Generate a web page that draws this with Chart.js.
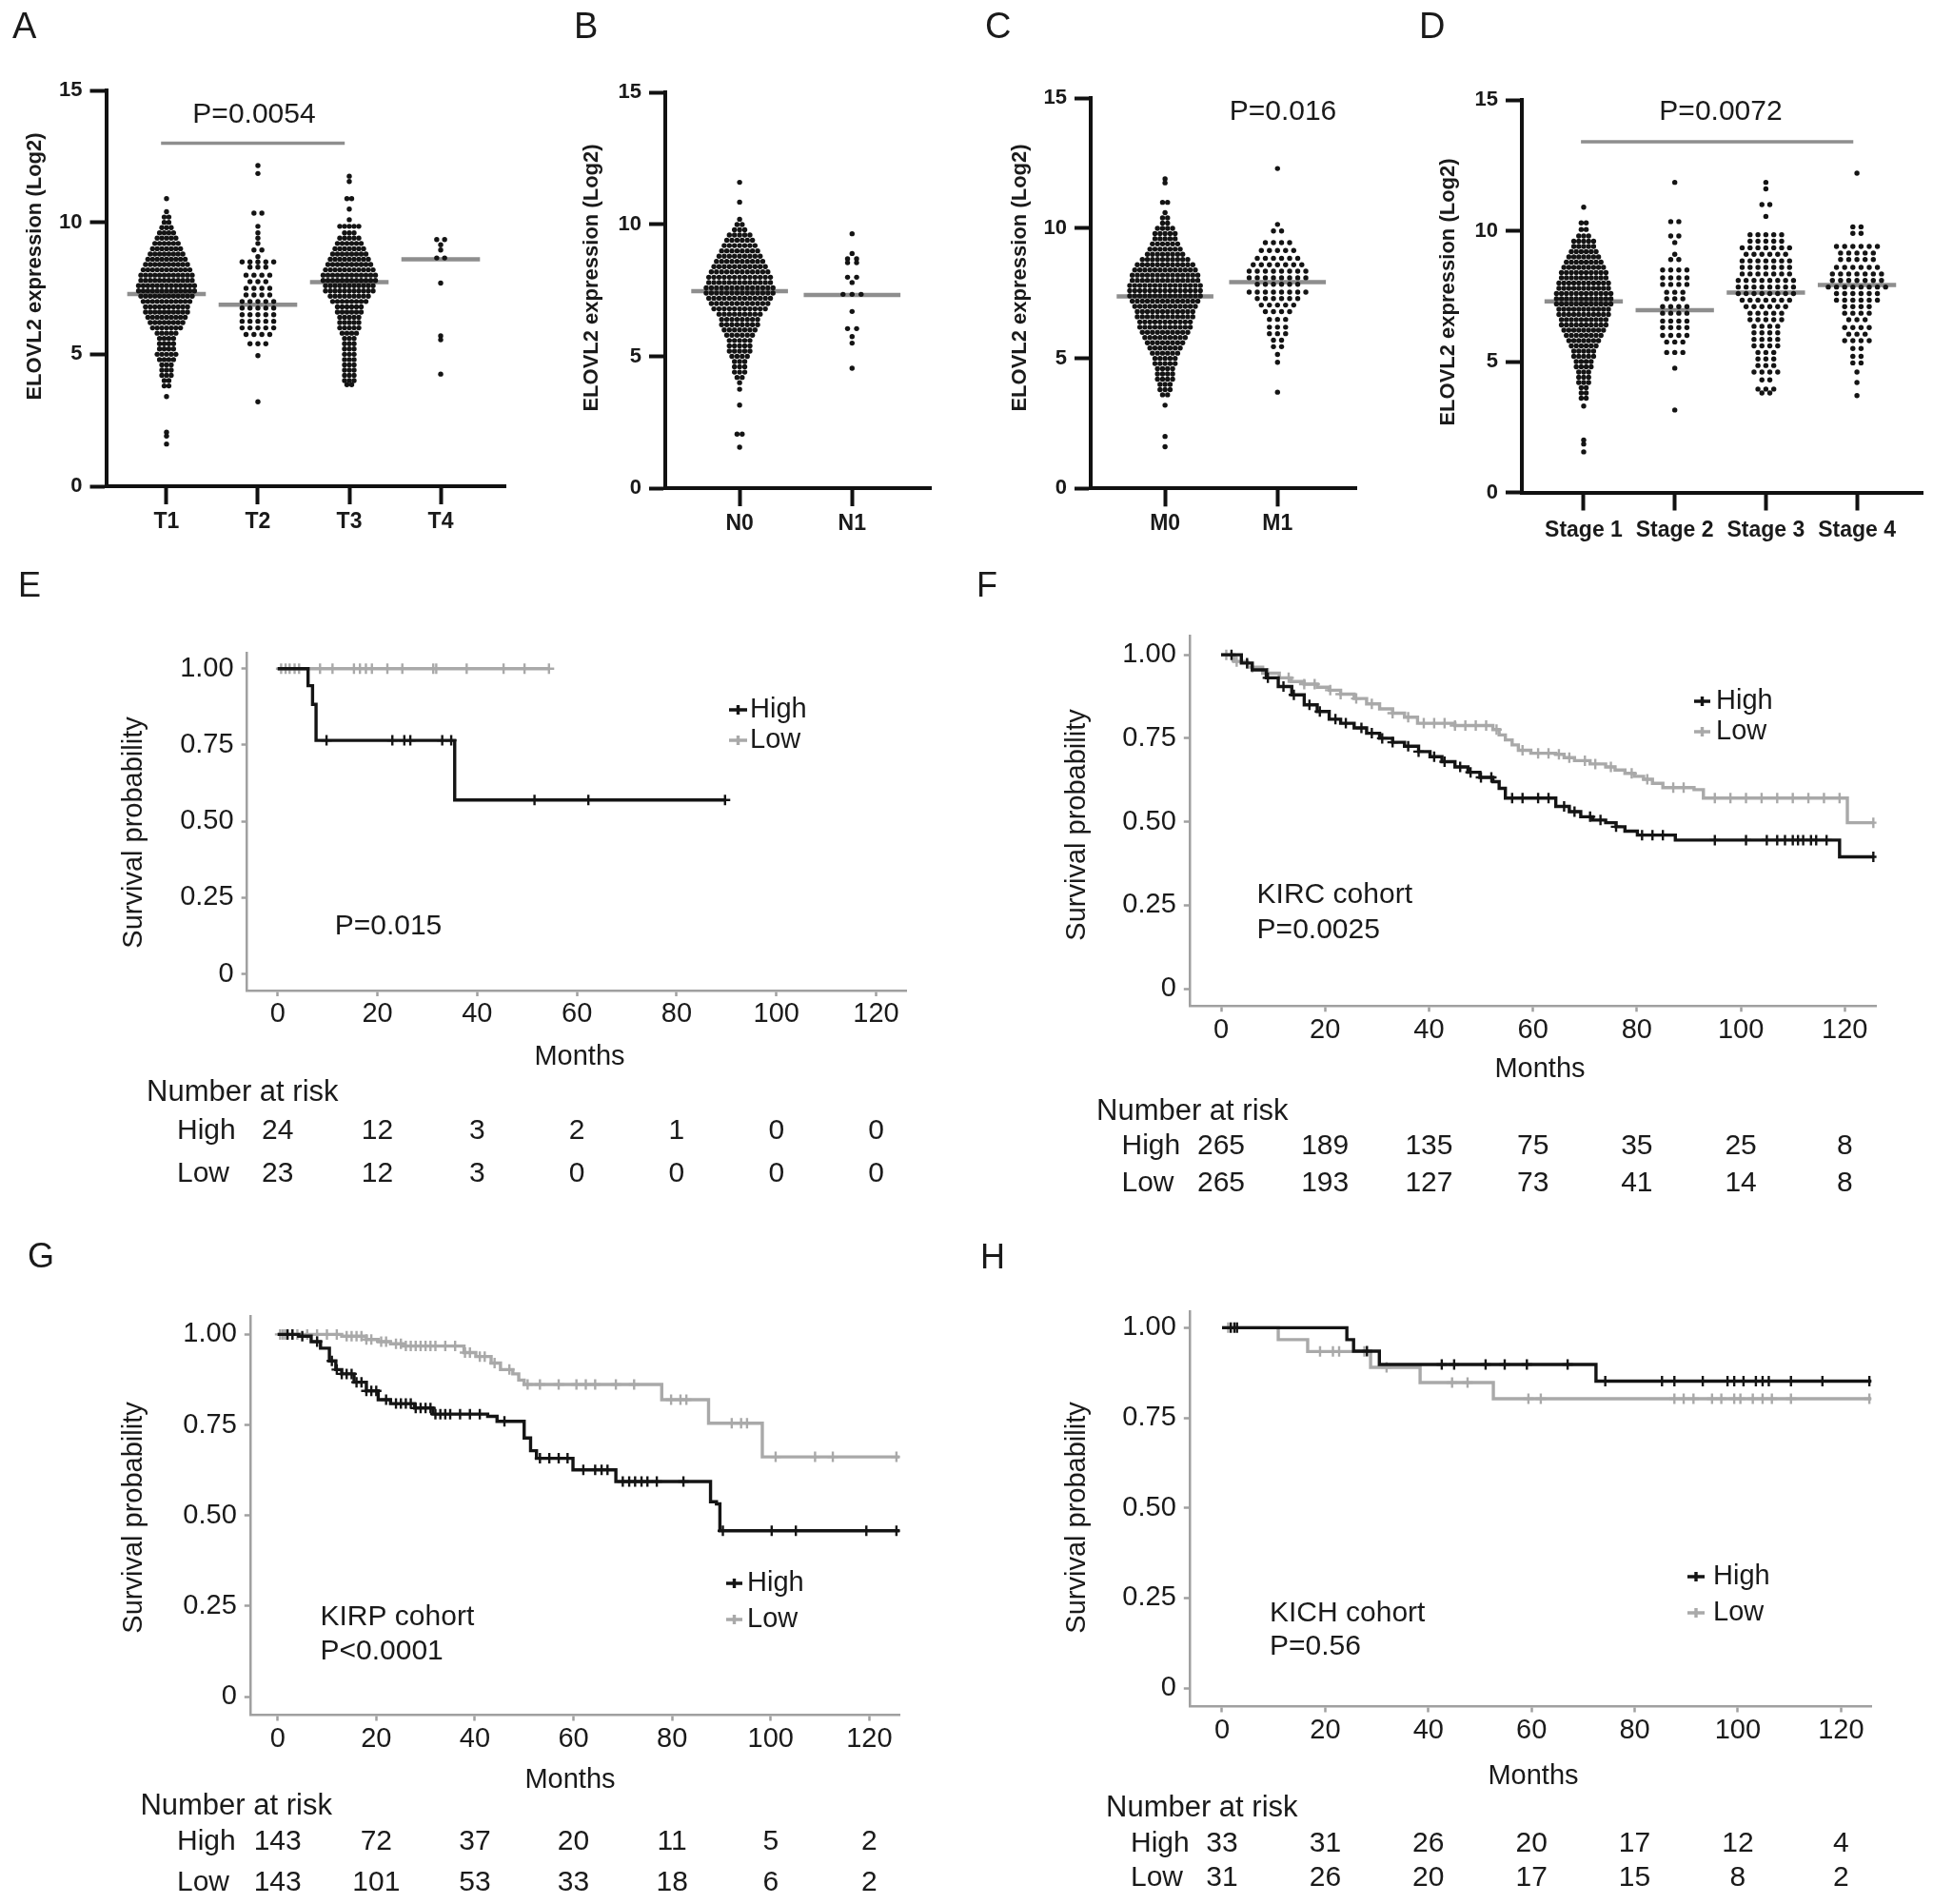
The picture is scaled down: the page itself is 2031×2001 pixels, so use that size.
<!DOCTYPE html>
<html>
<head>
<meta charset="utf-8">
<title>ELOVL2 expression and survival</title>
<script src="https://cdn.jsdelivr.net/npm/chart.js@4.4.1/dist/chart.umd.min.js"></script>
<style>
  html, body { margin: 0; padding: 0; background: #fff; }
  #fig { position: relative; width: 2031px; height: 2001px; overflow: hidden; background: #fff; }
  #fig canvas { position: absolute; }
</style>
</head>
<body>
<div id="fig">
  <canvas id="pA"></canvas>
  <canvas id="pB"></canvas>
  <canvas id="pC"></canvas>
  <canvas id="pD"></canvas>
  <canvas id="pE"></canvas>
  <canvas id="pF"></canvas>
  <canvas id="pG"></canvas>
  <canvas id="pH"></canvas>
</div>
<script>
/* ---- dot plot data: [log2 expression, number of dots in that row] ---- */
const aCats = ['T1', 'T2', 'T3', 'T4'];
const aT1 = [[10.9,1],[10.4,1],[10.2,2],[10.0,2],[9.8,3],[9.6,4],[9.4,5],[9.2,6],[9.0,7],[8.8,8],[8.6,9],[8.4,10],[8.2,11],[8.0,12],[7.8,12],[7.6,13],[7.4,13],[7.2,12],[7.0,11],[6.8,10],[6.6,10],[6.4,9],[6.2,8],[6.0,7],[5.8,5],[5.6,4],[5.4,4],[5.2,4],[5.0,5],[4.8,4],[4.6,3],[4.4,3],[4.2,3],[4.0,2],[3.8,2],[3.4,1],[2.05,1],[1.9,1],[1.6,1]];
const aT2 = [[12.15,1],[11.85,1],[10.35,2],[9.85,1],[9.6,1],[9.4,1],[9.2,1],[8.95,2],[8.7,1],[8.5,5],[8.3,3],[8.0,4],[7.75,3],[7.5,4],[7.25,4],[7.0,5],[6.75,5],[6.5,5],[6.25,5],[6.0,5],[5.75,4],[5.4,3],[4.95,1],[3.2,1]];
const aT3 = [[11.75,1],[11.55,1],[10.9,2],[10.5,1],[10.1,1],[9.85,5],[9.6,3],[9.4,5],[9.2,6],[9.0,7],[8.8,8],[8.6,9],[8.4,10],[8.2,11],[8.0,12],[7.8,12],[7.6,11],[7.4,11],[7.2,9],[7.0,8],[6.8,6],[6.6,6],[6.4,5],[6.2,5],[6.0,5],[5.8,4],[5.6,3],[5.4,3],[5.2,3],[5.0,3],[4.8,3],[4.6,3],[4.4,3],[4.2,3],[4.0,3],[3.85,2]];
const aT4 = [[9.35,2],[9.15,1],[8.95,1],[8.65,2],[7.7,1],[5.7,1],[5.55,1],[4.25,1]];
const aMedians = [7.28, 6.88, 7.73, 8.6];
const aBracket = [0.94, 2.95, 13.0];

const bCats = ['N0', 'N1'];
const bN0 = [[11.6,1],[10.85,1],[10.2,1],[10.0,2],[9.8,3],[9.6,5],[9.4,6],[9.2,7],[9.0,8],[8.8,9],[8.6,10],[8.4,11],[8.2,12],[8.0,13],[7.8,13],[7.6,14],[7.4,14],[7.2,13],[7.0,12],[6.8,11],[6.6,9],[6.4,8],[6.2,8],[6.0,7],[5.8,6],[5.6,5],[5.4,5],[5.2,5],[5.0,4],[4.8,3],[4.6,3],[4.4,3],[4.2,2],[4.0,1],[3.75,1],[3.15,1],[2.05,2],[1.55,1]];
const bN1 = [[9.65,1],[8.9,1],[8.7,2],[8.55,2],[8.0,2],[7.8,1],[7.35,3],[6.7,1],[6.05,2],[5.75,1],[5.5,1],[4.55,1]];
const bMedians = [7.47, 7.33];

const cCats = ['M0', 'M1'];
const cM0 = [[11.9,1],[11.75,1],[11.0,2],[10.6,1],[10.4,2],[10.2,2],[10.0,4],[9.8,5],[9.6,5],[9.4,6],[9.2,7],[9.0,8],[8.8,10],[8.6,12],[8.4,13],[8.2,14],[8.0,14],[7.8,15],[7.6,15],[7.4,15],[7.2,14],[7.0,13],[6.8,12],[6.6,12],[6.4,11],[6.2,11],[6.0,10],[5.8,9],[5.6,8],[5.4,7],[5.2,6],[5.0,5],[4.8,5],[4.6,4],[4.4,4],[4.2,4],[4.0,3],[3.8,3],[3.6,2],[3.2,1],[2.0,1],[1.6,1]];
const cM1 = [[12.3,1],[10.15,1],[9.9,2],[9.45,4],[9.15,5],[8.85,6],[8.6,7],[8.35,8],[8.1,8],[7.85,6],[7.55,8],[7.3,6],[7.05,5],[6.8,4],[6.5,3],[6.2,3],[5.95,3],[5.7,2],[5.45,2],[5.15,1],[4.85,1],[3.7,1]];
const cMedians = [7.38, 7.93];

const dCats = ['Stage 1', 'Stage 2', 'Stage 3', 'Stage 4'];
const dS1 = [[10.9,1],[10.3,2],[10.05,2],[9.8,3],[9.6,5],[9.4,5],[9.2,6],[9.0,7],[8.8,8],[8.6,9],[8.4,10],[8.2,10],[8.0,11],[7.8,11],[7.6,12],[7.4,12],[7.2,12],[7.0,11],[6.8,11],[6.6,10],[6.4,10],[6.2,9],[6.0,8],[5.8,7],[5.6,6],[5.4,5],[5.2,5],[5.0,4],[4.8,4],[4.6,3],[4.4,3],[4.2,3],[4.0,2],[3.8,2],[3.6,2],[3.3,1],[2.0,1],[1.85,1],[1.55,1]];
const dS2 = [[11.85,1],[10.35,2],[9.8,2],[9.55,1],[9.1,1],[8.9,2],[8.5,4],[8.2,4],[7.95,4],[7.65,3],[7.4,3],[7.1,4],[6.85,4],[6.55,4],[6.3,4],[6.0,4],[5.75,3],[5.35,3],[4.75,1],[3.15,1]];
const dS3 = [[11.85,1],[11.6,1],[11.0,2],[10.55,1],[9.85,5],[9.6,5],[9.35,7],[9.1,6],[8.85,7],[8.6,7],[8.35,7],[8.1,8],[7.85,8],[7.6,8],[7.35,7],[7.1,6],[6.85,5],[6.6,5],[6.35,4],[6.1,4],[5.85,4],[5.6,4],[5.35,3],[5.1,3],[4.85,3],[4.6,4],[4.3,2],[3.95,3],[3.8,2]];
const dS4 = [[12.2,1],[10.15,2],[9.9,2],[9.4,6],[9.15,5],[8.9,5],[8.6,6],[8.35,7],[8.1,7],[7.85,8],[7.6,6],[7.35,6],[7.1,4],[6.85,4],[6.6,3],[6.3,4],[6.05,3],[5.8,4],[5.5,2],[5.2,2],[4.95,2],[4.6,1],[4.2,1],[3.7,1]];
const dMedians = [7.30, 6.96, 7.64, 7.93];
const dBracket = [0.97, 3.96, 13.4];

/* ---- Kaplan-Meier data: [months, survival] step points, censor times ---- */
const riskMonths = [0, 20, 40, 60, 80, 100, 120];

const eHigh = [[0,1],[6.1,0.944],[7.0,0.883],[7.7,0.765],[35.5,0.570],[89.7,0.570]];
const eLow = [[0,1],[54.4,1]];
const eHighCens = [9.8, 23.0, 25.4, 26.6, 33.0, 34.8, 51.5, 62.3, 89.7];
const eLowCens = [0.7, 1.6, 2.4, 3.4, 4.3, 8.5, 11.0, 15.3, 16.5, 17.7, 18.9, 22.0, 25.0, 31.2, 31.8, 37.9, 45.3, 49.5, 54.4];
const eRiskHigh = [24, 12, 3, 2, 1, 0, 0];
const eRiskLow = [23, 12, 3, 0, 0, 0, 0];

const fHigh = [[0,1],[3.9,0.975],[6,0.955],[8.7,0.931],[11,0.905],[13.6,0.88],[16,0.85],[18.5,0.83],[20.8,0.807],[23,0.795],[25.6,0.781],[28,0.765],[30.5,0.75],[33,0.738],[35.3,0.726],[38,0.71],[40.2,0.695],[42.5,0.68],[45,0.664],[47.5,0.648],[49.8,0.633],[52.3,0.62],[53.5,0.6],[54.7,0.571],[64.4,0.546],[67,0.53],[69.2,0.515],[71.5,0.505],[74,0.497],[76,0.485],[77.7,0.472],[80.1,0.46],[87.4,0.445],[119,0.395],[125.5,0.395]];
const fLow = [[0,1],[2.5,0.98],[5.1,0.963],[8,0.945],[11.2,0.931],[13.5,0.92],[16,0.912],[18.5,0.903],[20.8,0.894],[23,0.882],[25.6,0.869],[28,0.853],[30.5,0.838],[33,0.825],[35.3,0.813],[37.8,0.795],[45,0.788],[52.3,0.776],[53.5,0.76],[54.7,0.745],[56,0.73],[57.2,0.714],[59.6,0.705],[64.4,0.702],[66,0.692],[68,0.683],[71,0.673],[74,0.664],[75.8,0.655],[77.7,0.645],[79.5,0.636],[81.3,0.627],[83,0.615],[85,0.602],[91,0.596],[92.8,0.571],[120.5,0.497],[125.5,0.497]];
const fHighCens = [2, 5, 9, 12, 14, 17, 19, 22, 24, 27, 29, 31, 33, 36, 38, 41, 43, 46, 48, 50, 52, 56, 58, 61, 63, 66, 68, 71, 73, 76, 81, 83, 85, 95, 101, 105, 107, 108.5, 110, 111, 112, 113.5, 114.5, 116.5, 125.5];
const fLowCens = [1, 3, 6, 9, 13, 16, 18, 21, 23, 26, 29, 33, 36, 39, 41, 43, 45, 47, 49, 51, 53, 58, 61, 63, 65, 67, 70, 72, 75, 79, 82, 87, 89, 95, 98, 101, 104, 107, 110, 113, 116, 119, 125.5];
const fRiskHigh = [265, 189, 135, 75, 35, 25, 8];
const fRiskLow = [265, 193, 127, 73, 41, 14, 8];

const gHigh = [[0,1],[4.3,0.995],[6.8,0.98],[8.7,0.962],[10.5,0.927],[11.8,0.903],[13,0.891],[15.5,0.868],[18,0.844],[20.4,0.82],[22.9,0.809],[27.8,0.797],[31.5,0.78],[42.6,0.774],[44.5,0.76],[50,0.714],[51.3,0.679],[52.5,0.658],[59.9,0.626],[68.6,0.594],[87.8,0.538],[89.0,0.532],[89.7,0.458],[126.2,0.458]];
const gLow = [[0,1],[13,0.995],[18,0.986],[20.4,0.98],[22.9,0.974],[25.4,0.968],[37.8,0.95],[40.2,0.939],[43.3,0.921],[45.2,0.903],[47.7,0.891],[48.9,0.874],[50,0.862],[77.9,0.82],[87.4,0.755],[98.3,0.662],[126.2,0.662]];
const gHighCens = [2, 3, 5, 8, 11, 12, 13, 14, 15, 16, 17, 18, 19, 20, 22, 24, 25, 26, 27, 28, 29, 30, 31, 32, 33, 34, 35, 37, 39, 41, 46, 53.2, 55.1, 57, 58.8, 62, 64.4, 65.7, 66.9, 70, 71.3, 72.5, 73.8, 75, 76.9, 82.3, 90.3, 100.2, 105.1, 119.4, 125.5];
const gLowCens = [0.5, 1, 1.5, 2, 3, 4, 6, 8, 10, 12, 14, 15, 16, 17, 18, 19, 21, 22, 24, 25, 26, 27, 28, 29, 30, 31, 32, 34, 36, 38, 39, 41, 42, 44, 47, 50.7, 53.2, 57, 60.6, 62.5, 64.4, 68.6, 72.3, 79.8, 81.7, 82.9, 92.1, 94, 95.2, 101, 109, 112.6, 125.5];
const gRiskHigh = [143, 72, 37, 20, 11, 5, 2];
const gRiskLow = [143, 101, 53, 33, 18, 6, 2];

const hHigh = [[0,1],[24.2,0.967],[25.5,0.935],[30.5,0.898],[72.5,0.852],[125.9,0.852]];
const hLow = [[0,1],[10.9,0.967],[16.6,0.934],[28.8,0.89],[38.4,0.848],[52.6,0.803],[125.9,0.803]];
const hHighCens = [1.7, 2.4, 2.9, 28.1, 42.6, 45, 51.1, 54.8, 59.1, 67, 74.3, 85.3, 87.7, 93.2, 98, 99.3, 101.1, 103.5, 104.8, 106, 110.3, 116.4, 125.5];
const hLowCens = [1.2, 19, 21.5, 22.7, 27.6, 31.9, 44.6, 47.6, 59.4, 61.8, 87.7, 89.5, 91.4, 95, 96.8, 99.3, 100.5, 102.9, 104.8, 106.6, 110.3, 125.5];
const hRiskHigh = [33, 31, 26, 20, 17, 12, 4];
const hRiskLow = [31, 26, 20, 17, 15, 8, 2];

/* ---- look ---- */
const FONT = '"Liberation Sans", Arial, Helvetica, sans-serif';
const INK = '#1a1a1a';
const DOT = '#141414';
const MEDIAN = '#8e8e8e';
const KM_BLACK = '#141414';
const KM_GRAY = '#a9a9a9';
const KM_AXIS = '#a0a0a0';

Chart.defaults.font.family = FONT;
Chart.defaults.animation = false;
Chart.defaults.events = [];
Chart.defaults.plugins.legend.display = false;
Chart.defaults.plugins.tooltip.enabled = false;

function placeCanvas(id, box) {
  var c = document.getElementById(id);
  c.width = box.w;
  c.height = box.h;
  c.style.left = box.x + 'px';
  c.style.top = box.y + 'px';
  c.style.width = box.w + 'px';
  c.style.height = box.h + 'px';
  return c;
}

// padding + forced axis sizes so the plot area lands on the given rectangle
function frame(box, area) {
  return {
    padding: {left: 0, top: area.t - box.y, right: box.x + box.w - area.r, bottom: 0},
    yW: area.l - box.x,
    xH: box.y + box.h - area.b
  };
}

function notesPlugin(box, notes, extra) {
  return {
    id: 'notes',
    afterDraw: function (chart) {
      var ctx = chart.ctx;
      notes.forEach(function (n) {
        ctx.save();
        ctx.font = (n.weight || 'normal') + ' ' + (n.size || 29) + 'px ' + FONT;
        ctx.fillStyle = n.color || INK;
        ctx.textAlign = n.align || 'left';
        ctx.textBaseline = 'middle';
        ctx.translate(n.x - box.x, n.y - box.y);
        if (n.rot) ctx.rotate(-Math.PI / 2);
        ctx.fillText(n.t, 0, 0);
        ctx.restore();
      });
      if (extra) extra(chart);
    }
  };
}

// GraphPad-like scatter: each row's dots sit side by side around the group centre
function dotPoints(groups, spacing, ppu) {
  var pts = [];
  groups.forEach(function (rows, gi) {
    var dx = spacing[gi] / ppu;
    rows.forEach(function (row) {
      var v = row[0], n = row[1];
      for (var j = 0; j < n; j++) {
        pts.push({x: gi + 1 + (j - (n - 1) / 2) * dx, y: v});
      }
    });
  });
  return pts;
}

function dotPlot(id, box, area, spec) {
  var canvas = placeCanvas(id, box);
  var f = frame(box, area);
  var ppu = (area.r - area.l) / (spec.xMax - spec.xMin);
  var datasets = [{
    type: 'scatter',
    data: dotPoints(spec.groups, spec.spacing, ppu),
    pointRadius: 2.7,
    pointBackgroundColor: DOT,
    backgroundColor: DOT,
    pointBorderWidth: 0,
    borderWidth: 0,
    order: 0
  }];
  spec.medians.forEach(function (m, i) {
    datasets.push({
      type: 'line',
      data: [{x: i + 1 - 0.43, y: m}, {x: i + 1 + 0.43, y: m}],
      borderColor: MEDIAN, borderWidth: 4.5, pointRadius: 0, order: 2
    });
  });
  if (spec.bracket) {
    datasets.push({
      type: 'line',
      data: [{x: spec.bracket[0], y: spec.bracket[2]}, {x: spec.bracket[1], y: spec.bracket[2]}],
      borderColor: MEDIAN, borderWidth: 3.5, pointRadius: 0, order: 2
    });
  }
  new Chart(canvas, {
    type: 'scatter',
    data: {datasets: datasets},
    options: {
      responsive: false,
      layout: {padding: f.padding},
      scales: {
        x: {
          type: 'linear', min: spec.xMin, max: spec.xMax,
          afterBuildTicks: function (s) { s.ticks = spec.cats.map(function (c, i) { return {value: i + 1}; }); },
          afterFit: function (s) { s.height = f.xH; },
          ticks: {
            autoSkip: false, maxRotation: 0, padding: spec.xPad, color: INK,
            font: {size: 23, weight: 'bold'},
            callback: function (v, i) { return spec.cats[i]; }
          },
          grid: {drawOnChartArea: false, drawTicks: true, tickLength: 19, tickWidth: 4, tickColor: '#111'},
          border: {display: true, width: 4, color: '#111'}
        },
        y: {
          type: 'linear', min: 0, max: 15,
          afterBuildTicks: function (s) { s.ticks = [0, 5, 10, 15].map(function (v) { return {value: v}; }); },
          afterFit: function (s) { s.width = f.yW; },
          ticks: {padding: 8, color: INK, font: {size: 22, weight: 'bold'}},
          grid: {drawOnChartArea: false, drawTicks: true, tickLength: 17, tickWidth: 4, tickColor: '#111'},
          border: {display: true, width: 4, color: '#111'}
        }
      }
    },
    plugins: [notesPlugin(box, spec.notes)]
  });
}

function survAt(curve, t) {
  var s = curve[0][1];
  for (var i = 0; i < curve.length; i++) {
    if (curve[i][0] <= t) s = curve[i][1]; else break;
  }
  return s;
}

function kmChart(id, box, area, spec) {
  var canvas = placeCanvas(id, box);
  var f = frame(box, area);
  var curveSet = function (curve, color, order) {
    return {
      type: 'line', data: curve.map(function (p) { return {x: p[0], y: p[1]}; }),
      borderColor: color, borderWidth: 3.4, stepped: true, pointRadius: 0, order: order
    };
  };
  var censSet = function (times, curve, color, order) {
    return {
      type: 'scatter', data: times.map(function (t) { return {x: t, y: survAt(curve, t)}; }),
      pointStyle: 'cross', pointRadius: 5.5, pointBorderColor: color, borderColor: color,
      pointBorderWidth: 2.4, order: order
    };
  };
  var extra = function (chart) {
    var ctx = chart.ctx, xs = chart.scales.x;
    ctx.save();
    ctx.font = '30px ' + FONT;
    ctx.fillStyle = INK;
    ctx.textAlign = 'center';
    ctx.textBaseline = 'middle';
    [[spec.riskHigh, spec.rowY[0]], [spec.riskLow, spec.rowY[1]]].forEach(function (row) {
      row[0].forEach(function (n, i) {
        ctx.fillText(String(n), xs.getPixelForValue(riskMonths[i]), row[1] - box.y);
      });
    });
    ctx.restore();
    // legend keys
    [[spec.key.y[0], KM_BLACK, 'High'], [spec.key.y[1], KM_GRAY, 'Low']].forEach(function (k) {
      var yy = k[0] - box.y, x1 = spec.key.x1 - box.x, x2 = spec.key.x2 - box.x, xm = (x1 + x2) / 2;
      ctx.save();
      ctx.strokeStyle = k[1];
      ctx.lineWidth = 3.4;
      ctx.beginPath();
      ctx.moveTo(x1, yy); ctx.lineTo(x2, yy);
      ctx.moveTo(xm, yy - 5); ctx.lineTo(xm, yy + 5);
      ctx.stroke();
      ctx.font = '29px ' + FONT;
      ctx.fillStyle = INK;
      ctx.textBaseline = 'middle';
      ctx.textAlign = 'left';
      ctx.fillText(k[2], spec.key.tx - box.x, yy);
      ctx.restore();
    });
  };
  new Chart(canvas, {
    type: 'scatter',
    data: {datasets: [
      curveSet(spec.high, KM_BLACK, 0),
      censSet(spec.highCens, spec.high, KM_BLACK, 0),
      curveSet(spec.low, KM_GRAY, 1),
      censSet(spec.lowCens, spec.low, KM_GRAY, 1)
    ]},
    options: {
      responsive: false,
      layout: {padding: f.padding},
      scales: {
        x: {
          type: 'linear', min: spec.xMin, max: spec.xMax,
          afterBuildTicks: function (s) { s.ticks = riskMonths.map(function (v) { return {value: v}; }); },
          afterFit: function (s) { s.height = f.xH; },
          ticks: {autoSkip: false, maxRotation: 0, padding: 2, color: INK, font: {size: 29},
            callback: function (v) { return String(v); }},
          grid: {drawOnChartArea: false, drawTicks: true, tickLength: 6, tickWidth: 2.5, tickColor: KM_AXIS},
          border: {display: true, width: 2.5, color: KM_AXIS}
        },
        y: {
          type: 'linear', min: spec.yMin, max: spec.yMax,
          afterBuildTicks: function (s) { s.ticks = [0, 0.25, 0.5, 0.75, 1].map(function (v) { return {value: v}; }); },
          afterFit: function (s) { s.width = f.yW; },
          ticks: {padding: 8, color: INK, font: {size: 29},
            callback: function (v) { return v === 0 ? '0' : v.toFixed(2); }},
          grid: {drawOnChartArea: false, drawTicks: true, tickLength: 6, tickWidth: 2.5, tickColor: KM_AXIS},
          border: {display: true, width: 2.5, color: KM_AXIS}
        }
      }
    },
    plugins: [notesPlugin(box, spec.notes, extra)]
  });
}

var yTitle = 'ELOVL2 expression (Log2)';

dotPlot('pA', {x: 0, y: 0, w: 580, h: 590}, {l: 111.5, t: 95, r: 531, b: 511}, {
  cats: aCats, groups: [aT1, aT2, aT3, aT4], spacing: [4.9, 8.3, 5.0, 8.3],
  medians: aMedians, bracket: aBracket, xMin: 0.339, xMax: 4.708, xPad: 5,
  notes: [
    {t: 'A', x: 13, y: 30, size: 38},
    {t: yTitle, x: 36.5, y: 280, size: 22, weight: 'bold', rot: true, align: 'center'},
    {t: 'P=0.0054', x: 267, y: 121, size: 30, align: 'center'}
  ]
});

dotPlot('pB', {x: 580, y: 0, w: 450, h: 590}, {l: 699, t: 97.4, r: 978, b: 513}, {
  cats: bCats, groups: [bN0, bN1], spacing: [5.4, 9.5],
  medians: bMedians, xMin: 0.339, xMax: 2.70, xPad: 5,
  notes: [
    {t: 'B', x: 603, y: 30, size: 38},
    {t: yTitle, x: 621.5, y: 292, size: 22, weight: 'bold', rot: true, align: 'center'}
  ]
});

dotPlot('pC', {x: 1030, y: 0, w: 430, h: 590}, {l: 1146, t: 103.3, r: 1425, b: 513.3}, {
  cats: cCats, groups: [cM0, cM1], spacing: [5.3, 8.5],
  medians: cMedians, xMin: 0.339, xMax: 2.70, xPad: 5,
  notes: [
    {t: 'C', x: 1035, y: 30, size: 38},
    {t: yTitle, x: 1072, y: 292, size: 22, weight: 'bold', rot: true, align: 'center'},
    {t: 'P=0.016', x: 1348, y: 117.5, size: 30, align: 'center'}
  ]
});

dotPlot('pD', {x: 1460, y: 0, w: 571, h: 590}, {l: 1599, t: 105, r: 2020, b: 517.5}, {
  cats: dCats, groups: [dS1, dS2, dS3, dS4], spacing: [5.2, 8.5, 8.3, 8.6],
  medians: dMedians, bracket: dBracket, xMin: 0.321, xMax: 4.72, xPad: 7,
  notes: [
    {t: 'D', x: 1491, y: 30, size: 38},
    {t: yTitle, x: 1522, y: 307, size: 22, weight: 'bold', rot: true, align: 'center'},
    {t: 'P=0.0072', x: 1808, y: 118, size: 30, align: 'center'}
  ]
});

kmChart('pE', {x: 0, y: 590, w: 1000, h: 700}, {l: 259.6, t: 686, r: 952, b: 1041}, {
  high: eHigh, low: eLow, highCens: eHighCens, lowCens: eLowCens,
  riskHigh: eRiskHigh, riskLow: eRiskLow, rowY: [1189, 1234],
  xMin: -6.13, xMax: 126.0, yMin: -0.054, yMax: 1.052,
  key: {x1: 766, x2: 785, tx: 788, y: [746, 778]},
  notes: [
    {t: 'E', x: 19, y: 617, size: 36},
    {t: 'Survival probability', x: 141, y: 875, size: 29, rot: true, align: 'center'},
    {t: 'Months', x: 609, y: 1111, size: 29, align: 'center'},
    {t: 'P=0.015', x: 408, y: 974, size: 30, align: 'center'},
    {t: 'Number at risk', x: 154, y: 1148, size: 31},
    {t: 'High', x: 186, y: 1189, size: 30},
    {t: 'Low', x: 186, y: 1234, size: 30}
  ]
});

kmChart('pF', {x: 1000, y: 590, w: 1031, h: 700}, {l: 1249.8, t: 668.5, r: 1971.6, b: 1057.3}, {
  high: fHigh, low: fLow, highCens: fHighCens, lowCens: fLowCens,
  riskHigh: fRiskHigh, riskLow: fRiskLow, rowY: [1205, 1244],
  xMin: -6.08, xMax: 126.1, yMin: -0.052, yMax: 1.056,
  key: {x1: 1780, x2: 1797, tx: 1803, y: [737, 769]},
  notes: [
    {t: 'F', x: 1026, y: 617, size: 36},
    {t: 'Survival probability', x: 1132, y: 867, size: 29, rot: true, align: 'center'},
    {t: 'Months', x: 1618, y: 1124, size: 29, align: 'center'},
    {t: 'KIRC cohort', x: 1320.6, y: 941, size: 30},
    {t: 'P=0.0025', x: 1320.6, y: 978, size: 30},
    {t: 'Number at risk', x: 1152, y: 1168, size: 31},
    {t: 'High', x: 1178.5, y: 1205, size: 30},
    {t: 'Low', x: 1178.5, y: 1244, size: 30}
  ]
});

kmChart('pG', {x: 0, y: 1290, w: 1000, h: 711}, {l: 262.8, t: 1383, r: 945.5, b: 1802.5}, {
  high: gHigh, low: gLow, highCens: gHighCens, lowCens: gLowCens,
  riskHigh: gRiskHigh, riskLow: gRiskLow, rowY: [1936, 1979],
  xMin: -5.58, xMax: 126.2, yMin: -0.051, yMax: 1.051,
  key: {x1: 763, x2: 780, tx: 785, y: [1664, 1702]},
  notes: [
    {t: 'G', x: 29, y: 1322, size: 36},
    {t: 'Survival probability', x: 141, y: 1595, size: 29, rot: true, align: 'center'},
    {t: 'Months', x: 599, y: 1871, size: 29, align: 'center'},
    {t: 'KIRP cohort', x: 336.5, y: 1700, size: 30},
    {t: 'P<0.0001', x: 336.5, y: 1736, size: 30},
    {t: 'Number at risk', x: 147.4, y: 1898, size: 31},
    {t: 'High', x: 186, y: 1936, size: 30},
    {t: 'Low', x: 186, y: 1979, size: 30}
  ]
});

kmChart('pH', {x: 1000, y: 1290, w: 1031, h: 711}, {l: 1249.8, t: 1378.7, r: 1966.3, b: 1793.5}, {
  high: hHigh, low: hLow, highCens: hHighCens, lowCens: hLowCens,
  riskHigh: hRiskHigh, riskLow: hRiskLow, rowY: [1938, 1974],
  xMin: -6.31, xMax: 125.9, yMin: -0.051, yMax: 1.044,
  key: {x1: 1773, x2: 1791, tx: 1800, y: [1657, 1695]},
  notes: [
    {t: 'H', x: 1030, y: 1323, size: 36},
    {t: 'Survival probability', x: 1132, y: 1595, size: 29, rot: true, align: 'center'},
    {t: 'Months', x: 1611, y: 1867, size: 29, align: 'center'},
    {t: 'KICH cohort', x: 1334, y: 1696, size: 30},
    {t: 'P=0.56', x: 1334, y: 1731, size: 30},
    {t: 'Number at risk', x: 1162, y: 1900, size: 31},
    {t: 'High', x: 1188, y: 1938, size: 30},
    {t: 'Low', x: 1188, y: 1974, size: 30}
  ]
});
</script>
</body>
</html>
